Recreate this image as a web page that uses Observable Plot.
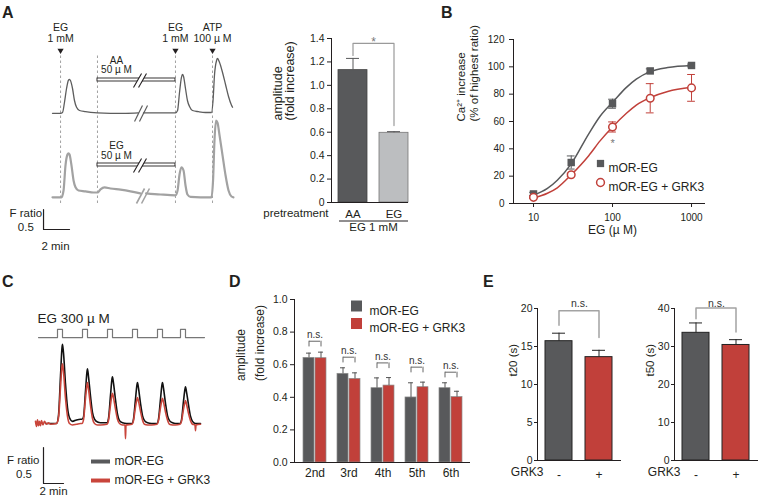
<!DOCTYPE html>
<html><head><meta charset="utf-8">
<script src="https://cdn.jsdelivr.net/npm/d3@7"></script>
<script src="https://cdn.jsdelivr.net/npm/@observablehq/plot@0.6"></script>
<style>
body{margin:0;background:#fff;}
#root{position:relative;width:762px;height:500px;overflow:hidden;font-family:'Liberation Sans',Arial,sans-serif;color:#231f20;}
.letter{position:absolute;font-weight:bold;font-size:16px;line-height:16px;}
</style></head><body><div id="root"></div>
<script>
// ---------------- DATA ----------------
// Panel A traces: [time (min), F ratio]; null = axis break
const aTraceAA = [[4.0,1.0],[4.62,1.0],[4.77,1.02],[4.92,1.27],[5.08,1.62],[5.23,1.83],[5.31,1.85],[5.38,1.82],[5.54,1.62],[5.69,1.32],[5.85,1.15],[6.08,1.07],[6.54,1.04],[7.46,1.01],[8.46,1.0],[9.62,1.0],[10.6,1.01],[10.8,null],[11.0,1.01],[12.31,1.01],[13.46,1.01],[13.62,1.07],[13.77,1.52],[13.92,1.9],[14.0,1.97],[14.08,1.92],[14.23,1.62],[14.38,1.32],[14.54,1.17],[14.77,1.07],[15.23,1.04],[15.77,1.02],[16.23,1.02],[16.35,1.32],[16.46,1.95],[16.62,2.32],[16.69,2.37],[16.85,2.27],[17.08,2.02],[17.31,1.72],[17.54,1.42],[17.77,1.2],[17.85,1.15]];
const aTraceEG = [[4.0,1.0],[4.69,1.0],[4.85,1.17],[5.0,1.8],[5.15,2.07],[5.23,2.1],[5.31,2.07],[5.46,1.8],[5.62,1.42],[5.77,1.25],[6.0,1.17],[6.54,1.15],[7.15,1.12],[7.46,1.12],[7.69,1.2],[8.0,1.25],[8.46,1.22],[9.23,1.19],[10.0,1.15],[10.75,1.1],[10.9,null],[11.2,1.1],[12.31,1.07],[13.46,1.05],[13.62,1.17],[13.77,1.57],[13.92,1.75],[14.08,1.67],[14.23,1.3],[14.38,1.07],[14.62,1.01],[15.38,1.0],[16.23,1.0],[16.35,1.42],[16.46,2.42],[16.58,2.92],[16.69,2.87],[16.85,2.55],[17.08,2.05],[17.31,1.55],[17.54,1.17],[17.77,1.02],[17.92,1.0]];
const aApplyT = [4.62, 7.46, 13.46, 16.31];
const aArrowT = [4.62, 13.46, 16.31];
const aApplyLabels = ["EG\n1 mM", "EG\n1 mM", "ATP\n100 µ M"];
const aPerfLabels = ["AA\n50 µ M", "EG\n50 µ M"];

// Panel A bars
const ampCats = ["AA", "EG"];
const ampMean = [1.13, 0.595];
const ampSem = [0.10, 0.01];

// Panel B dose response
const doseEG = [10, 30, 100, 300, 1000];
const caEG = [7, 30, 73, 97, 101];
const caEGerr = [1.2, 4.8, 3.3, 1.5, 1.0];
const caGRK = [4.5, 21, 56, 77, 84.6];
const caGRKerr = [0.8, 1.2, 3.7, 10.7, 9.8];
const fitEG = [[10,6],[15,11],[20,17],[30,29],[50,51],[70,64],[100,74],[150,85],[200,91],[300,96.5],[500,99.5],[1000,101]];
const fitGRK = [[10,4],[15,7.5],[20,11.5],[30,21],[50,35],[70,46],[100,56],[150,66],[200,72],[300,77.5],[500,82],[1000,85]];

// Panel C traces: [time (min), F ratio]
const cTraceEG = [[4.5,1.0],[5.0,1.0],[5.6,1.0],[5.8,1.11],[6.0,1.66],[6.15,2.05],[6.2,2.1],[6.3,1.98],[6.5,1.55],[6.7,1.22],[6.9,1.08],[7.2,1.03],[7.6,1.05],[8.0,1.06],[8.15,1.06],[8.3,1.09],[8.5,1.45],[8.65,1.72],[8.7,1.76],[8.8,1.65],[9.0,1.38],[9.2,1.15],[9.4,1.06],[9.7,1.02],[10.0,1.01],[10.65,1.01],[10.8,1.07],[11.0,1.39],[11.15,1.62],[11.2,1.65],[11.3,1.56],[11.5,1.33],[11.7,1.13],[11.9,1.04],[12.2,1.01],[12.6,1.0],[13.15,1.0],[13.3,1.06],[13.5,1.34],[13.65,1.54],[13.7,1.57],[13.8,1.49],[14.0,1.28],[14.2,1.11],[14.4,1.04],[14.7,1.01],[15.1,1.0],[15.65,1.0],[15.8,1.06],[16.0,1.34],[16.15,1.54],[16.2,1.57],[16.3,1.49],[16.5,1.28],[16.7,1.11],[16.9,1.04],[17.2,1.01],[17.5,1.0],[17.95,1.0],[18.1,1.05],[18.3,1.31],[18.45,1.48],[18.5,1.51],[18.6,1.44],[18.8,1.26],[19.0,1.1],[19.2,1.03],[19.5,1.0],[20.0,1.0]];
const cTraceGRK = [[3.5,1.03],[3.6,0.96],[3.7,1.05],[3.8,0.97],[3.9,1.03],[4.0,0.97],[4.1,1.04],[4.25,0.98],[4.4,1.03],[4.6,0.99],[4.8,1.01],[5.0,0.99],[5.6,1.0],[5.8,1.08],[6.0,1.5],[6.15,1.8],[6.2,1.83],[6.3,1.72],[6.5,1.35],[6.7,1.1],[6.9,1.0],[7.2,0.98],[7.6,0.99],[8.0,1.0],[8.15,1.0],[8.3,1.05],[8.5,1.35],[8.65,1.54],[8.7,1.57],[8.8,1.48],[9.0,1.25],[9.2,1.07],[9.4,1.0],[9.7,0.98],[10.0,0.98],[10.65,0.99],[10.8,1.04],[11.0,1.26],[11.15,1.4],[11.2,1.42],[11.3,1.36],[11.5,1.2],[11.7,1.06],[11.9,1.0],[12.2,0.98],[12.45,0.98],[12.5,0.79],[12.55,0.98],[13.15,0.99],[13.3,1.04],[13.5,1.23],[13.65,1.34],[13.7,1.36],[13.8,1.31],[14.0,1.17],[14.2,1.05],[14.4,0.99],[14.7,0.98],[15.1,0.98],[15.65,0.99],[15.8,1.04],[16.0,1.22],[16.15,1.33],[16.2,1.35],[16.3,1.3],[16.5,1.16],[16.7,1.05],[16.9,0.99],[17.2,0.98],[17.5,0.98],[17.95,0.99],[18.1,1.03],[18.3,1.2],[18.45,1.3],[18.5,1.32],[18.6,1.27],[18.8,1.14],[19.0,1.04],[19.2,0.99],[19.45,0.98],[19.5,0.9],[19.55,0.98],[20.0,0.99]];
const cPulseStart = [5.7, 8.2, 10.7, 13.2, 15.7, 18.0];
const cPulseDur = 0.5;

// Panel D
const pulseCats = ["2nd", "3rd", "4th", "5th", "6th"];
const ampEG = [0.642, 0.544, 0.456, 0.399, 0.456];
const ampEGerr = [0.029, 0.037, 0.063, 0.09, 0.033];
const ampGRK = [0.64, 0.513, 0.472, 0.462, 0.401];
const ampGRKerr = [0.037, 0.037, 0.049, 0.031, 0.036];
const nsTop = [0.744, 0.646, 0.611, 0.585, 0.554];

// Panel E
const eCats = ["-", "+"];
const t20 = [15.7, 13.6], t20err = [1.05, 0.9];
const t50 = [33.6, 30.4], t50err = [2.6, 1.4];

// ---------------- STYLE / LAYOUT ----------------
const FONT = "'Liberation Sans', Arial, Helvetica, sans-serif";
const DARK = "#58595b", RED = "#c1403a", LIGHT = "#bcbec0", INK = "#231f20", TRED = "#c9453b";
const root = document.getElementById("root");
function place(el, left, top) { el.style.position = "absolute"; el.style.left = left + "px"; el.style.top = top + "px"; root.appendChild(el); }
function st() { return {fontFamily: FONT, fontSize: "10.5px", background: "transparent", overflow: "visible", color: INK}; }
const seg = (a) => a.map(([x1, y1, x2, y2]) => ({x1, y1, x2, y2}));

// ---------------- PANEL A traces ----------------
const aOff = {AA: 2.43, EG: 0.33};
const pAt = Plot.plot({
  width: 250, height: 250, margin: 0, style: st(),
  x: {domain: [0, 250 / 13], axis: null},
  y: {domain: [0, 6.25], axis: null},
  marks: [
    Plot.ruleX(aApplyT, {y1: 1.175, y2: 4.9, stroke: "#8a8a8a", strokeWidth: 0.8, strokeDasharray: "2.5,2.5"}),
    Plot.dot(aArrowT, {x: d => d, y: 5.0, symbol: "triangle", rotate: 180, r: 2.3, fill: INK}),
    Plot.text(aArrowT, {x: d => d, y: 5.43, text: (d, i) => aApplyLabels[i], fontSize: 10.5, lineHeight: 1.05}),
    Plot.rect([{t1: 7.46, t2: 13.46, v1: 4.225, v2: 4.3}, {t1: 7.46, t2: 13.46, v1: 2.1, v2: 2.175}], {x1: "t1", x2: "t2", y1: "v1", y2: "v2", fill: "white", stroke: INK, strokeWidth: 0.9}),
    Plot.text([aPerfLabels[0]], {x: 8.92, y: 4.625, text: d => d, fontSize: 10, lineHeight: 0.95}),
    Plot.text([aPerfLabels[1]], {x: 8.92, y: 2.5, text: d => d, fontSize: 10, lineHeight: 1.0}),
    Plot.link(seg([[10.42, 4.075, 11.04, 4.425], [10.42, 1.95, 11.04, 2.3]]), {x1: "x1", y1: "y1", x2: "x2", y2: "y2", stroke: "white", strokeWidth: 4.5}),
    Plot.link(seg([[10.23, 4.075, 10.85, 4.425], [10.62, 4.075, 11.23, 4.425], [10.23, 1.95, 10.85, 2.3], [10.62, 1.95, 11.23, 2.3]]), {x1: "x1", y1: "y1", x2: "x2", y2: "y2", stroke: INK, strokeWidth: 1.1}),
    Plot.line(aTraceEG, {x: d => d[0], y: d => d[1] == null ? NaN : d[1] + aOff.EG, stroke: "#a2a2a2", strokeWidth: 2.2, curve: "monotone-x"}),
    Plot.line(aTraceAA, {x: d => d[0], y: d => d[1] == null ? NaN : d[1] + aOff.AA, stroke: "#5d5d5d", strokeWidth: 1.3, curve: "monotone-x"}),
    Plot.link(seg([[10.31, 3.225, 10.92, 3.625], [10.69, 3.225, 11.31, 3.625]]), {x1: "x1", y1: "y1", x2: "x2", y2: "y2", stroke: "#5d5d5d", strokeWidth: 1.2}),
    Plot.link(seg([[10.46, 1.175, 11.08, 1.55], [10.85, 1.175, 11.46, 1.55]]), {x1: "x1", y1: "y1", x2: "x2", y2: "y2", stroke: "#a2a2a2", strokeWidth: 1.6}),
    Plot.line([[3.31, 1.025], [3.31, 0.525], [5.31, 0.525]], {stroke: INK, strokeWidth: 1.2}),
    Plot.text(["F ratio"], {x: 3.2, y: 0.935, textAnchor: "end", fontSize: 11.5}),
    Plot.text(["0.5"], {x: 1.95, y: 0.59, fontSize: 11.5}),
    Plot.text(["2 min"], {x: 4.23, y: 0.1, fontSize: 11.5})
  ]
});
place(pAt, 0, 0);

// ---------------- PANEL A bars ----------------
const ampData = ampCats.map((c, i) => ({c, v: ampMean[i], e: ampSem[i]}));
const pAb = Plot.plot({
  width: 165, height: 250, marginLeft: 81, marginRight: 7, marginTop: 38, marginBottom: 48, style: st(),
  x: {type: "band", domain: ampCats, range: [88, 158], paddingInner: 0.3, paddingOuter: 0},
  y: {domain: [0, 1.4]},
  marks: [
    Plot.line([{c: "AA", y: 1.255}, {c: "AA", y: 1.358}, {c: "EG", y: 1.358}, {c: "EG", y: 0.657}], {x: "c", y: "y", stroke: "#9a9a9a", strokeWidth: 1.2}),
    Plot.text(["*"], {y: 1.366, frameAnchor: "middle", dx: 3.5, fontSize: 12, fill: "#777"}),
    Plot.barY([ampData[0]], {x: "c", y: "v", fill: DARK, stroke: "#444", strokeWidth: 0.8}),
    Plot.barY([ampData[1]], {x: "c", y: "v", fill: LIGHT, stroke: "#777", strokeWidth: 0.8}),
    Plot.ruleX(ampData, {x: "c", y1: "v", y2: d => d.v + d.e, stroke: DARK}),
    Plot.tickY(ampData, {x: "c", y: d => d.v + d.e, insetLeft: 8, insetRight: 8, stroke: DARK}),
    Plot.frame({anchor: "left", stroke: INK}),
    Plot.ruleY([0], {stroke: INK}),
    Plot.axisY({ticks: [0, 0.2, 0.4, 0.6, 0.8, 1.0, 1.2, 1.4], tickFormat: d => d === 0 ? "0" : d.toFixed(1), tickSize: 4, tickPadding: 3, fontSize: 10.5, label: null}),
    Plot.axisX({tickSize: 0, tickPadding: 7, fontSize: 11.5, label: null}),
    Plot.text(["amplitude"], {frameAnchor: "left", dx: -54, rotate: -90, fontSize: 12.5}),
    Plot.text(["(fold increase)"], {frameAnchor: "left", dx: -42, rotate: -90, fontSize: 12.5}),
    Plot.text(["pretreatment"], {frameAnchor: "bottom-left", dx: -3, dy: 14, textAnchor: "end", fontSize: 11.5}),
    Plot.ruleY([-0.158], {insetLeft: 8, stroke: INK}),
    Plot.text(["EG 1 mM"], {frameAnchor: "bottom", dx: 3.5, dy: 28, fontSize: 11.5})
  ]
});
place(pAb, 250, 0);

// ---------------- PANEL B ----------------
const bEG = doseEG.map((x, i) => ({x, y: caEG[i], e: caEGerr[i]}));
const bGRK = doseEG.map((x, i) => ({x, y: caGRK[i], e: caGRKerr[i]}));
const capF = 1.12;
const pB = Plot.plot({
  width: 382, height: 250, marginLeft: 133, marginRight: 57, marginTop: 39, marginBottom: 47, style: st(),
  x: {type: "log", domain: [5.58, 1503]},
  y: {domain: [0, 120]},
  marks: [
    Plot.axisY({ticks: [0, 20, 40, 60, 80, 100, 120], tickSize: 4, tickPadding: 5, fontSize: 10, label: null}),
    Plot.axisX({ticks: [10, 100, 1000], tickFormat: d => String(d), tickSize: 4, tickPadding: 6, fontSize: 10, label: null}),
    Plot.frame({anchor: "left", stroke: INK}),
    Plot.ruleY([0], {stroke: INK}),
    Plot.line(fitEG, {x: d => d[0], y: d => d[1], stroke: DARK, strokeWidth: 1.5, curve: "monotone-x"}),
    Plot.line(fitGRK, {x: d => d[0], y: d => d[1], stroke: RED, strokeWidth: 1.5, curve: "monotone-x"}),
    Plot.ruleX(bEG, {x: "x", y1: d => d.y - d.e, y2: d => d.y + d.e, stroke: DARK}),
    Plot.ruleY(bEG, {y: d => d.y + d.e, x1: d => d.x / capF, x2: d => d.x * capF, stroke: DARK}),
    Plot.ruleY(bEG, {y: d => d.y - d.e, x1: d => d.x / capF, x2: d => d.x * capF, stroke: DARK}),
    Plot.ruleX(bGRK, {x: "x", y1: d => d.y - d.e, y2: d => d.y + d.e, stroke: RED}),
    Plot.ruleY(bGRK, {y: d => d.y + d.e, x1: d => d.x / capF, x2: d => d.x * capF, stroke: RED}),
    Plot.ruleY(bGRK, {y: d => d.y - d.e, x1: d => d.x / capF, x2: d => d.x * capF, stroke: RED}),
    Plot.dot(bEG, {x: "x", y: "y", symbol: "square", r: 4.2, fill: DARK}),
    Plot.dot(bGRK, {x: "x", y: "y", r: 3.8, stroke: RED, fill: "white", strokeWidth: 1.5}),
    Plot.text([{x: 100, y: 43.9}], {x: "x", y: "y", text: () => "*", fill: "#777", fontSize: 11}),
    Plot.dot([0], {frameAnchor: "top-left", dx: 87, dy: 124, symbol: "square", r: 4.1, fill: DARK}),
    Plot.dot([0], {frameAnchor: "top-left", dx: 87, dy: 143, r: 3.9, stroke: RED, fill: "white", strokeWidth: 1.5}),
    Plot.text(["mOR-EG"], {frameAnchor: "top-left", dx: 95, dy: 124, textAnchor: "start", fontSize: 12}),
    Plot.text(["mOR-EG + GRK3"], {frameAnchor: "top-left", dx: 95, dy: 143, textAnchor: "start", fontSize: 12}),
    Plot.text(["Ca²⁺ increase\n(% of highest ratio)"], {frameAnchor: "left", dx: -46.5, rotate: -90, fontSize: 11.5, lineHeight: 1.13}),
    Plot.text(["EG (µ M)"], {frameAnchor: "bottom", dx: 3, dy: 30, fontSize: 12})
  ]
});
place(pB, 380, 0);

// ---------------- PANEL C ----------------
const stim = [[3.8, "lo"]];
cPulseStart.forEach(s => { stim.push([s, "lo"], [s, "hi"], [s + cPulseDur, "hi"], [s + cPulseDur, "lo"]); });
stim.push([20.4, "lo"]);
const stimLevel = {lo: 2.194, hi: 2.306};
const pC = Plot.plot({
  width: 250, height: 250, margin: 0, style: st(),
  x: {domain: [0, 25], axis: null},
  y: {domain: [-0.0694, 3.4028], axis: null},
  marks: [
    Plot.line(stim, {x: d => d[0], y: d => stimLevel[d[1]], stroke: "#777", strokeWidth: 1.2}),
    Plot.text(["EG 300 µ M"], {x: 3.7, y: 2.458, textAnchor: "start", fontSize: 13.5}),
    Plot.line(cTraceEG, {x: d => d[0], y: d => d[1], stroke: "#111", strokeWidth: 1.6, curve: "monotone-x"}),
    Plot.line(cTraceGRK, {x: d => d[0], y: d => d[1], stroke: TRED, strokeWidth: 1.6, curve: "monotone-x"}),
    Plot.line([[4.3, 0.667], [4.3, 0.167], [6.3, 0.167]], {stroke: INK, strokeWidth: 1.2}),
    Plot.text(["F ratio"], {x: 3.9, y: 0.49, textAnchor: "end", fontSize: 11.5}),
    Plot.text(["0.5"], {x: 2.35, y: 0.29, fontSize: 11.5}),
    Plot.text(["2 min"], {x: 5.3, y: 0.056, fontSize: 11.5}),
    Plot.ruleY([0.472], {x1: 9.1, x2: 11.0, stroke: DARK, strokeWidth: 4}),
    Plot.ruleY([0.208], {x1: 9.1, x2: 11.0, stroke: TRED, strokeWidth: 4}),
    Plot.text(["mOR-EG"], {x: 11.4, y: 0.472, textAnchor: "start", fontSize: 12}),
    Plot.text(["mOR-EG + GRK3"], {x: 11.4, y: 0.208, textAnchor: "start", fontSize: 12})
  ]
});
place(pC, 0, 250);

// ---------------- PANEL D ----------------
const dData = pulseCats.map((c, i) => ({c, eg: ampEG[i], ege: ampEGerr[i], grk: ampGRK[i], grke: ampGRKerr[i], ns: nsTop[i]}));
const pD = Plot.plot({
  width: 265, height: 250, marginLeft: 69, marginRight: 20, marginTop: 49, marginBottom: 38, style: st(),
  x: {type: "band", domain: pulseCats, range: [76, 240], paddingInner: 0.314, paddingOuter: 0},
  y: {domain: [0, 1]},
  marks: [
    Plot.barY(dData, {x: "c", y: "eg", fill: DARK, insetRight: 12, stroke: "#8c8c8c", strokeWidth: 0.7}),
    Plot.barY(dData, {x: "c", y: "grk", fill: RED, insetLeft: 12, stroke: "#8c8c8c", strokeWidth: 0.7}),
    Plot.ruleX(dData, {x: "c", y1: "eg", y2: d => d.eg + d.ege, dx: -6, stroke: "#555"}),
    Plot.tickY(dData, {x: "c", y: d => d.eg + d.ege, insetLeft: 3, insetRight: 15, stroke: "#555"}),
    Plot.ruleX(dData, {x: "c", y1: "grk", y2: d => d.grk + d.grke, dx: 6, stroke: "#555"}),
    Plot.tickY(dData, {x: "c", y: d => d.grk + d.grke, insetLeft: 15, insetRight: 3, stroke: "#555"}),
    Plot.ruleX(dData, {x: "c", y1: d => d.ns - 0.035, y2: "ns", dx: -6, stroke: "#666"}),
    Plot.ruleX(dData, {x: "c", y1: d => d.ns - 0.035, y2: "ns", dx: 6, stroke: "#666"}),
    Plot.tickY(dData, {x: "c", y: "ns", insetLeft: 6, insetRight: 6, stroke: "#666"}),
    Plot.text(dData, {x: "c", y: d => d.ns + 0.04, text: () => "n.s.", fontSize: 10, fill: "#333"}),
    Plot.frame({anchor: "left", stroke: INK}),
    Plot.ruleY([0], {stroke: INK}),
    Plot.axisY({ticks: [0, 0.2, 0.4, 0.6, 0.8, 1.0], tickFormat: d => d.toFixed(1), tickSize: 4, tickPadding: 3, fontSize: 10.5, label: null}),
    Plot.axisX({tickSize: 0, tickPadding: 6, fontSize: 12, label: null}),
    Plot.text(["amplitude"], {frameAnchor: "left", dx: -53, rotate: -90, fontSize: 12}),
    Plot.text(["(fold increase)"], {frameAnchor: "left", dx: -34, rotate: -90, fontSize: 12}),
    Plot.dot([0], {frameAnchor: "top-left", dx: 62, dy: 6.5, symbol: "square", r: 6.2, fill: DARK}),
    Plot.dot([0], {frameAnchor: "top-left", dx: 62, dy: 24, symbol: "square", r: 6.2, fill: RED}),
    Plot.text(["mOR-EG"], {frameAnchor: "top-left", dx: 75, dy: 6.5, textAnchor: "start", fontSize: 12}),
    Plot.text(["mOR-EG + GRK3"], {frameAnchor: "top-left", dx: 75, dy: 24, textAnchor: "start", fontSize: 12})
  ]
});
place(pD, 225, 250);

// ---------------- PANEL E ----------------
function ePlot(vals, errs, ymax, ticks, ylab, br, nsY) {
  const data = eCats.map((c, i) => ({c, v: vals[i], e: errs[i]}));
  return Plot.plot({
    width: 130, height: 250, marginLeft: 42, marginRight: 4, marginTop: 58, marginBottom: 40, style: st(),
    x: {type: "band", domain: eCats, range: [49.5, 118], paddingInner: 0.317, paddingOuter: 0},
    y: {domain: [0, ymax]},
    marks: [
      Plot.line(br, {x: "c", y: "y", stroke: "#a3a3a3", strokeWidth: 1.5}),
      Plot.text(["n.s."], {y: nsY, frameAnchor: "middle", fontSize: 10.5, fill: "#333"}),
      Plot.barY([data[0]], {x: "c", y: "v", fill: DARK, stroke: "#222", strokeWidth: 1}),
      Plot.barY([data[1]], {x: "c", y: "v", fill: RED, stroke: "#222", strokeWidth: 1}),
      Plot.ruleX(data, {x: "c", y1: "v", y2: d => d.v + d.e, stroke: "#222"}),
      Plot.tickY(data, {x: "c", y: d => d.v + d.e, insetLeft: 7, insetRight: 7, stroke: "#222"}),
      Plot.frame({anchor: "left", stroke: INK}),
      Plot.ruleY([0], {stroke: INK}),
      Plot.axisY({ticks, tickSize: 3, tickPadding: 2, fontSize: 10.5, label: null}),
      Plot.axisX({tickSize: 0, tickPadding: 9.5, fontSize: 12, label: null}),
      Plot.text(["GRK3"], {frameAnchor: "bottom-left", dx: 6, dy: 15, textAnchor: "end", fontSize: 12}),
      Plot.text([ylab], {frameAnchor: "left", dx: -24, dy: -8, rotate: -90, fontSize: 11.5})
    ]
  });
}
place(ePlot(t20, t20err, 20, [0, 5, 10, 15, 20], "t20 (s)", [{c: "-", y: 17.8}, {c: "-", y: 19.7}, {c: "+", y: 19.7}, {c: "+", y: 16.2}], 20.6), 495, 250);
place(ePlot(t50, t50err, 40, [0, 10, 20, 30, 40], "t50 (s)", [{c: "-", y: 37.3}, {c: "-", y: 40.1}, {c: "+", y: 40.1}, {c: "+", y: 33.8}], 41.3), 632, 250);

// ---------------- Panel letters ----------------
[["A", 2, 4.5], ["B", 441, 4.5], ["C", 2, 273.5], ["D", 229, 273.5], ["E", 483, 273.5]].forEach(([t, x, y]) => {
  const d = document.createElement("div"); d.className = "letter"; d.textContent = t; d.style.left = x + "px"; d.style.top = y + "px"; root.appendChild(d);
});
</script></body></html>
